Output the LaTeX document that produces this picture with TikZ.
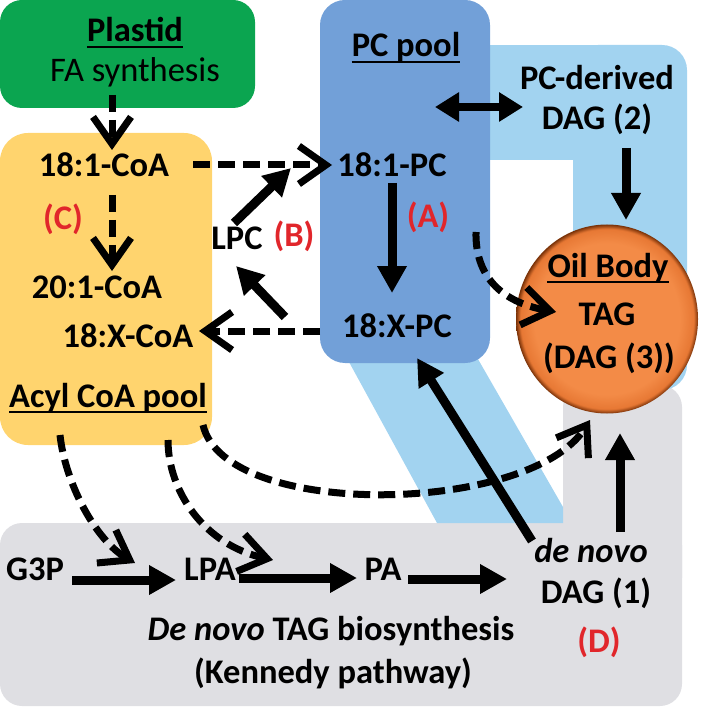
\documentclass[tikz,border=0pt]{standalone}
\usepackage{fontspec}
\setmainfont{Carlito}
\usetikzlibrary{arrows.meta,shapes.geometric}
\definecolor{plastidgreen}{HTML}{0BA550}
\definecolor{acylyellow}{HTML}{FFD46E}
\definecolor{pcblue}{HTML}{72A0D8}
\definecolor{lightband}{HTML}{A2D3F0}
\definecolor{kennedygray}{HTML}{DFDFE3}
\definecolor{labelred}{HTML}{E1262B}
\definecolor{oilA}{HTML}{F38B47}
\definecolor{oilB}{HTML}{E77834}
\definecolor{oilC}{HTML}{7A3208}
\pgfdeclareradialshading{oilball}{\pgfpoint{0bp}{0bp}}{color(0bp)=(oilA); color(20bp)=(oilA); color(23.8bp)=(oilB); color(25bp)=(oilC); color(50bp)=(oilC)}
\tikzset{
  txt/.style={font=\fontsize{34.5}{40}\selectfont\bfseries, inner sep=0pt, anchor=base, text=black},
  redlbl/.style={txt, text=labelred},
  solidarrow/.style={line width=9pt, -{Triangle[width=28pt,length=27pt]}},
  dasharrow/.style={line width=7pt, dash pattern=on 17pt off 8pt, -{Straight Barb[width=38pt,length=27pt]}},
  uline/.style={line width=2.8pt},
}
\begin{document}
\begin{tikzpicture}[x=1pt,y=-1pt]
\useasboundingbox (0,0) rectangle (700,708);
% background regions
\fill[kennedygray, rounded corners=22pt] (0,523) rectangle (682,706);
\fill[kennedygray, rounded corners=22pt] (563,385) rectangle (682,600);
\fill[lightband] (470,45) rectangle (600,160);
\fill[lightband, rounded corners=25pt] (573,45) rectangle (687,390);
\fill[lightband] (337,340) -- (467,340) -- (563,507) -- (563,523) -- (437,523) -- cycle;
\fill[pcblue, rounded corners=25pt] (320,0) rectangle (490,363);
\fill[plastidgreen, rounded corners=22pt] (0,0) rectangle (255,108);
\fill[acylyellow, rounded corners=28pt] (0,133) rectangle (212,445);
\node[ellipse, minimum width=182pt, minimum height=189pt, inner sep=0pt, shade, shading=oilball] (ball) at (607,319) {};

% texts
\node[txt] (plastid) at (135,42) {Plastid};
\node[txt, font=\fontsize{34.5}{40}\selectfont] (fasyn) at (135,82) {FA synthesis};
\node[txt] (c181) at (104,177) {18:1-CoA};
\node[redlbl] (labC) at (63,230) {(C)};
\node[txt] (c201) at (97,298) {20:1-CoA};
\node[txt] (c18x) at (128,347) {18:X-CoA};
\node[txt] (acyl) at (108,407) {Acyl CoA pool};
\node[txt] (lpc) at (237,250) {LPC};
\node[redlbl] (labB) at (294,247) {(B)};
\node[txt] (pc181) at (392,177) {18:1-PC};
\node[redlbl] (labA) at (428,228) {(A)};
\node[txt] (pc18x) at (397,337) {18:X-PC};
\node[txt] (pcpool) at (406,57) {PC pool};
\node[txt] (pcder) at (597,90) {PC-derived};
\node[txt] (dag2) at (597,130) {DAG (2)};
\node[txt] (oil) at (608,277) {Oil Body};
\node[txt] (tag) at (607,325) {TAG};
\node[txt] (dag3) at (609,368) {(DAG (3))};
\node[txt] (g3p) at (35,580) {G3P};
\node[txt] (lpa) at (210,580) {LPA};
\node[txt] (pa) at (383,580) {PA};
\node[txt, font=\fontsize{34.5}{40}\selectfont\bfseries\itshape] (denovo) at (591,562) {de novo};
\node[txt] (dag1) at (596,603) {DAG (1)};
\node[redlbl] (labD) at (599,652) {(D)};
\node[txt] (kenA) at (331,640) {\textit{De novo} TAG biosynthesis};
\node[txt] (kenB) at (333,683) {(Kennedy pathway)};

% underlines
\foreach \n in {plastid,acyl,pcpool,oil}{
  \draw[uline] ([yshift=-5pt]\n.base west) -- ([yshift=-5pt]\n.base east);
}

% connector end points
\coordinate (a1s) at (112,95);   \coordinate (a1e) at (112,150);
\coordinate (a2s) at (193,165);  \coordinate (a2e) at (332,165);
\coordinate (a3s) at (112,195);  \coordinate (a3e) at (112,271);
\coordinate (a4s) at (234,223);  \coordinate (a4e) at (291,168);
\coordinate (a5s) at (285,317);  \coordinate (a5e) at (236,266);
\coordinate (a6s) at (320,331);  \coordinate (a6e) at (199,331);
\coordinate (a7s) at (392,183);  \coordinate (a7e) at (392,293);
\coordinate (a8s) at (435,107);  \coordinate (a8e) at (523,107);
\coordinate (a9s) at (626,148);  \coordinate (a9e) at (626,220);
\coordinate (a10s) at (476,232); \coordinate (a10e) at (556,312);
\coordinate (a11s) at (203,425); \coordinate (a11e) at (590,420);
\coordinate (a12s) at (60,435);  \coordinate (a12e) at (135,563);
\coordinate (a13s) at (168,440); \coordinate (a13e) at (273,560);
\coordinate (a14s) at (72,580);  \coordinate (a14e) at (176,580);
\coordinate (a15s) at (239,578); \coordinate (a15e) at (357,578);
\coordinate (a16s) at (408,579); \coordinate (a16e) at (507,579);
\coordinate (a17s) at (532,541); \coordinate (a17e) at (417,358);
\coordinate (a18s) at (620,532); \coordinate (a18e) at (620,433);

% connectors
\draw[dasharrow] (a1s) -- (a1e);
\draw[dasharrow] (a2s) -- (a2e);
\draw[dasharrow] (a3s) -- (a3e);
\draw[solidarrow] (a4s) -- (a4e);
\draw[solidarrow] (a5s) -- (a5e);
\draw[dasharrow] (a6s) -- (a6e);
\draw[solidarrow] (a7s) -- (a7e);
\draw[line width=8pt, {Triangle[width=28pt,length=24pt]}-{Triangle[width=28pt,length=24pt]}] (a8s) -- (a8e);
\draw[solidarrow] (a9s) -- (a9e);
\draw[dasharrow] (a10s) .. controls (475,275) and (500,302) .. (a10e);
\draw[dasharrow] (a11s) .. controls (225,520) and (530,515) .. (a11e);
\draw[dasharrow] (a12s) .. controls (65,482) and (95,540) .. (a12e);
\draw[dasharrow] (a13s) .. controls (168,492) and (205,545) .. (a13e);
\draw[solidarrow] (a14s) -- (a14e);
\draw[solidarrow] (a15s) -- (a15e);
\draw[solidarrow] (a16s) -- (a16e);
\draw[solidarrow] (a17s) -- (a17e);
\draw[solidarrow] (a18s) -- (a18e);
\end{tikzpicture}
\end{document}
